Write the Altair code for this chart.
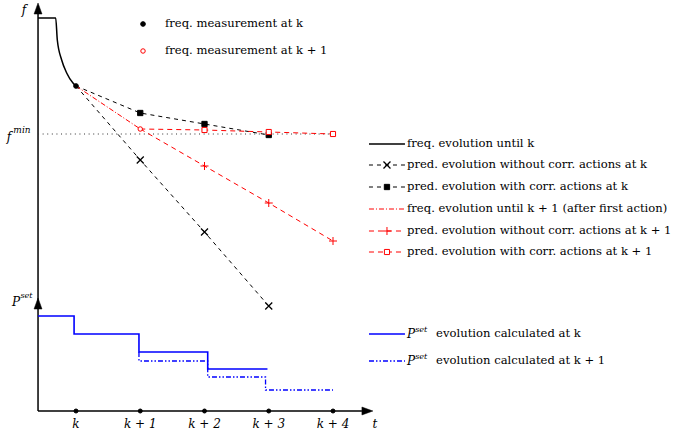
import altair as alt
import pandas as pd

# ---------------- data (t in steps, k = 0; f / P in arbitrary vertical units, 0 = t-axis) -------------
TICK_T = [0, 1, 2, 3, 4]
TICK_LABELS = ["k", "k + 1", "k + 2", "k + 3", "k + 4"]

FREQ_T = [-0.591, -0.316, -0.291, -0.223, -0.145, -0.047, 0.0]
FREQ_F = [393, 393, 371, 351, 338, 328, 325]

FMIN_T = [-0.591, 4.03]
FMIN_F = [277, 277]

MEAS_K_T, MEAS_K_F = [0], [325]
MEAS_K1_T, MEAS_K1_F = [1], [282]

PRED_K_NOACT_T = [0, 1, 2, 3]
PRED_K_NOACT_F = [325, 251, 179, 105]
PRED_K_ACT_T = [0, 1, 2, 3]
PRED_K_ACT_F = [325, 298, 287, 276]
FREQ_K1_T = [0, 1]
FREQ_K1_F = [325, 282]
PRED_K1_NOACT_T = [1, 2, 3, 4]
PRED_K1_NOACT_F = [282, 245, 208, 170]
PRED_K1_ACT_T = [1, 2, 3, 4]
PRED_K1_ACT_F = [282, 281, 279, 277]

PSET_K_T = [-0.591, -0.03, 0.98, 2.05, 2.98]
PSET_K_V = [95, 77, 59, 42, 42]
PSET_K1_T = [0.98, 0.98, 2.05, 2.95, 4.0]
PSET_K1_V = [59, 50, 34, 21, 21]

LEG_TEXTS = [
    "freq. evolution until k",
    "pred. evolution without corr. actions at k",
    "pred. evolution with corr. actions at k",
    "freq. evolution until k + 1 (after first action)",
    "pred. evolution without corr. actions at k + 1",
    "pred. evolution with corr. actions at k + 1",
]
LEG_ROWS = [267, 246, 224, 202, 180, 159]
PLEG_TEXTS = ["evolution calculated at k", "evolution calculated at k + 1"]
PLEG_ROWS = [77, 50]
TOP_TEXTS = ["freq. measurement at k", "freq. measurement at k + 1"]
TOP_ROWS = [387, 360]

# ---------------- scales ----------------
X_DOM = [-76 / 64.25, (673 - 76) / 64.25]
Y_DOM = [-23, 411]
xs = alt.Scale(domain=X_DOM, nice=False, zero=False)
ys = alt.Scale(domain=Y_DOM, nice=False, zero=False)
X0 = -0.591  # axis origin
FONT = "DejaVu Serif"
FS = 11.6
RED, BLUE, BLACK = "#ff0000", "#0000ff", "#000000"

XSHAPE = "M-1,-1L1,1M-1,1L1,-1"
PLUS = "M-1,0L1,0M0,-1L0,1"
UP = "M0,-1L-0.36,0L0.36,0Z"
RIGHT = "M1,0L0,-0.36L0,0.36Z"


def enc(ch):
    return ch.encode(x=alt.X("t:Q", scale=xs, axis=None), y=alt.Y("v:Q", scale=ys, axis=None))


def line(ts, vs, color, width=1.0, dash=None, interp="linear"):
    df = pd.DataFrame({"t": ts, "v": vs, "o": list(range(len(ts)))})
    kw = dict(color=color, strokeWidth=width, interpolate=interp, clip=False)
    if dash:
        kw["strokeDash"] = dash
    return enc(alt.Chart(df).mark_line(**kw)).encode(order="o:Q")


def pts(ts, vs, shape, size, color, fill=None, sw=1.0):
    df = pd.DataFrame({"t": ts, "v": vs})
    kw = dict(shape=shape, size=size, stroke=color, strokeWidth=sw, opacity=1, clip=False)
    kw["fill"] = fill if fill else "transparent"
    kw["filled"] = bool(fill)
    return enc(alt.Chart(df).mark_point(**kw))


def txt(ts, vs, labels, size=FS, italic=False, align="left", baseline="middle"):
    df = pd.DataFrame({"t": ts, "v": vs, "s": labels})
    kw = dict(font=FONT, fontSize=size, align=align, baseline=baseline, color=BLACK)
    if italic:
        kw["fontStyle"] = "italic"
    return enc(alt.Chart(df).mark_text(**kw)).encode(text="s:N")


layers = []
# axes
layers.append(line([X0, X0], [0, 397], BLACK, 1.5))
layers.append(line([X0, 4.45], [0, 0], BLACK, 1.5))
layers.append(pts([X0, X0], [397, 102], UP, 484, BLACK, fill=BLACK, sw=0.5))
layers.append(pts([4.45], [0], RIGHT, 484, BLACK, fill=BLACK, sw=0.5))
layers.append(pts(TICK_T, [0] * 5, "circle", 16, BLACK, fill=BLACK))

# f_min
layers.append(line(FMIN_T, FMIN_F, "#333333", 1.0, dash=[1, 3.6]))

# frequency curves
layers.append(line(FREQ_T, FREQ_F, BLACK, 1.5, interp="monotone"))
layers.append(line(PRED_K_NOACT_T, PRED_K_NOACT_F, BLACK, 1.0, dash=[4, 4]))
layers.append(line(PRED_K_ACT_T, PRED_K_ACT_F, BLACK, 1.0, dash=[4, 4]))
layers.append(line(FREQ_K1_T, FREQ_K1_F, RED, 1.0, dash=[5, 2, 1, 2]))
layers.append(line(PRED_K1_NOACT_T, PRED_K1_NOACT_F, RED, 1.0, dash=[5, 4]))
layers.append(line(PRED_K1_ACT_T, PRED_K1_ACT_F, RED, 1.0, dash=[5, 4]))

layers.append(pts(PRED_K_NOACT_T[1:], PRED_K_NOACT_F[1:], XSHAPE, 49, BLACK, sw=1.3))
layers.append(pts(PRED_K_ACT_T[1:], PRED_K_ACT_F[1:], "square", 28, BLACK, fill=BLACK))
layers.append(pts(PRED_K1_NOACT_T[1:], PRED_K1_NOACT_F[1:], PLUS, 64, RED, sw=1.0))
layers.append(pts(PRED_K1_ACT_T[1:], PRED_K1_ACT_F[1:], "square", 26, RED, fill="white", sw=1.0))
layers.append(pts(MEAS_K_T, MEAS_K_F, "circle", 22, BLACK, fill=BLACK))
layers.append(pts(MEAS_K1_T, MEAS_K1_F, "circle", 20, RED, fill="white", sw=1.0))

# P set
layers.append(line(PSET_K_T, PSET_K_V, BLUE, 1.6, interp="step-after"))
layers.append(line(PSET_K1_T, PSET_K1_V, BLUE, 1.3, dash=[5, 2, 1.5, 2, 1.5, 2], interp="step-after"))

# axis texts
layers.append(txt(TICK_T, [-13] * 5, TICK_LABELS, size=12, italic=True, align="center"))
layers.append(txt([4.654], [-13], ["t"], size=12, italic=True, align="center"))
layers.append(txt([-0.809], [401], ["f"], size=12, italic=True, align="center"))
layers.append(txt([-1.043], [274], ["f"], size=12, italic=True, align="center"))
layers.append(txt([-0.975], [281], ["min"], size=9, italic=True))
layers.append(txt([-0.934], [109], ["P"], size=12, italic=True, align="center"))
layers.append(txt([-0.865], [115], ["set"], size=8, italic=True))

# top legend
layers.append(pts([1.043], [TOP_ROWS[0]], "circle", 22, BLACK, fill=BLACK))
layers.append(pts([1.043], [TOP_ROWS[1]], "circle", 20, RED, fill="white"))
layers.append(txt([1.385] * 2, TOP_ROWS, TOP_TEXTS))

# right legend
L0, L1, LM, LT = 4.56, 5.12, 4.84, 5.152
layers.append(line([L0, L1], [LEG_ROWS[0]] * 2, BLACK, 1.5))
layers.append(line([L0, L1], [LEG_ROWS[1]] * 2, BLACK, 1.0, dash=[4, 4]))
layers.append(line([L0, L1], [LEG_ROWS[2]] * 2, BLACK, 1.0, dash=[4, 4]))
layers.append(line([L0, L1], [LEG_ROWS[3]] * 2, RED, 1.0, dash=[5, 2, 1, 2]))
layers.append(line([L0, L1], [LEG_ROWS[4]] * 2, RED, 1.0, dash=[5, 4]))
layers.append(line([L0, L1], [LEG_ROWS[5]] * 2, RED, 1.0, dash=[5, 4]))
layers.append(pts([LM], [LEG_ROWS[1]], XSHAPE, 49, BLACK, sw=1.3))
layers.append(pts([LM], [LEG_ROWS[2]], "square", 28, BLACK, fill=BLACK))
layers.append(pts([LM], [LEG_ROWS[4]], PLUS, 64, RED))
layers.append(pts([LM], [LEG_ROWS[5]], "square", 26, RED, fill="white"))
layers.append(txt([LT] * 6, LEG_ROWS, LEG_TEXTS))

layers.append(line([L0, L1], [PLEG_ROWS[0]] * 2, BLUE, 1.6))
layers.append(line([L0, L1], [PLEG_ROWS[1]] * 2, BLUE, 1.3, dash=[5, 2, 1.5, 2, 1.5, 2]))
layers.append(txt([LT] * 2, PLEG_ROWS, ["P", "P"], size=12, italic=True))
layers.append(txt([5.28] * 2, [r + 4 for r in PLEG_ROWS], ["set", "set"], size=8, italic=True))
layers.append(txt([5.605] * 2, PLEG_ROWS, PLEG_TEXTS))

chart = alt.layer(*layers).properties(
    width=673, height=434, padding=0, autosize="none"
).configure_view(stroke=None)

chart.save("out.html", embed_options={"renderer": "svg", "actions": False})
